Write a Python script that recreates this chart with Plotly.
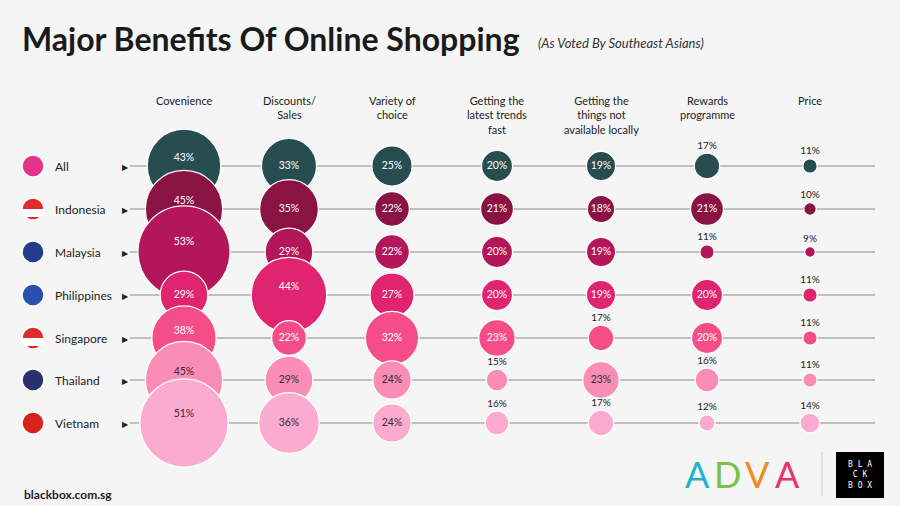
import plotly.graph_objects as go

categories = ["Covenience", "Discounts/<br>Sales", "Variety of<br>choice", "Getting the<br>latest trends<br>fast",
              "Getting the<br>things not<br>available locally", "Rewards<br>programme", "Price"]
countries = ["All", "Indonesia", "Malaysia", "Philippines", "Singapore", "Thailand", "Vietnam"]
values = {
    "All":         [43, 33, 25, 20, 19, 17, 11],
    "Indonesia":   [45, 35, 22, 21, 18, 21, 10],
    "Malaysia":    [53, 29, 22, 20, 19, 11, 9],
    "Philippines": [29, 44, 27, 20, 19, 20, 11],
    "Singapore":   [38, 22, 32, 23, 17, 20, 11],
    "Thailand":    [45, 29, 24, 15, 23, 16, 11],
    "Vietnam":     [51, 36, 24, 16, 17, 12, 14],
}
colors = ["#284d51", "#8a1344", "#b3175a", "#e0246f", "#f54d87", "#f98db6", "#fbaad0"]
text_colors = ["white"] * 5 + ["#3a2a33"] * 2

col_x = [184, 289, 392, 497, 601, 707, 810]
row_y = [166, 209, 252, 295, 338, 380, 423]

def dia(v):
    return 1.85 * v - 6

fig = go.Figure()
for i, c in enumerate(countries):
    y = row_y[i]
    fig.add_shape(type="line", x0=130, x1=875, y0=y, y1=y, line=dict(color="#8a8a8a", width=1), layer="below")

for i, c in enumerate(countries):
    vals = values[c]
    sizes = [dia(v) for v in vals]
    fig.add_trace(go.Scatter(x=col_x, y=[row_y[i]] * 7, mode="markers",
                             marker=dict(size=sizes, color=colors[i], line=dict(color="white", width=1.2), opacity=1),
                             hoverinfo="skip", showlegend=False))
    inx, iny, it, outx, outy, ot = [], [], [], [], [], []
    for j, v in enumerate(vals):
        if v >= 18:
            inx.append(col_x[j]); iny.append(row_y[i] - (0.1 * dia(v) if v >= 38 else 0)); it.append(f"{v}%")
        else:
            outx.append(col_x[j]); outy.append(row_y[i] - dia(v) / 2 - 7); ot.append(f"{v}%")
    fig.add_trace(go.Scatter(x=inx, y=iny, mode="text", text=it,
                             textfont=dict(color=text_colors[i], size=10.5, family="Lato"),
                             hoverinfo="skip", showlegend=False))
    fig.add_trace(go.Scatter(x=outx, y=outy, mode="text", text=ot,
                             textfont=dict(color="#222", size=10, family="Lato"),
                             hoverinfo="skip", showlegend=False))
    fig.add_shape(type="circle", x0=22, x1=44, y0=row_y[i] - 11, y1=row_y[i] + 11,
                  fillcolor=["#e8338a", "#e02b2b", "#233d8c", "#2a4fb0", "#e02b2b", "#2a2f6e", "#d8231c"][i],
                  line=dict(color="white", width=1.5))
    if i in (1, 4):
        fig.add_shape(type="rect", x0=23, x1=43, y0=row_y[i], y1=row_y[i] + 8, fillcolor="white", line_width=0)
    fig.add_annotation(x=53, y=row_y[i], text=c, showarrow=False, xanchor="left",
                       font=dict(size=12, color="#222", family="Lato"))
    fig.add_annotation(x=125, y=row_y[i], text="▶", showarrow=False, font=dict(size=8, color="#222"))

for j, cat in enumerate(categories):
    fig.add_annotation(x=col_x[j], y=92, text=cat, showarrow=False, yanchor="top",
                       font=dict(size=11, color="#222", family="Lato"))

fig.add_annotation(x=20, y=38, text="<b>Major Benefits Of Online Shopping</b>", showarrow=False, xanchor="left",
                   font=dict(size=32, color="#1a1a1a", family="Lato"))
fig.add_annotation(x=536, y=43, text="<i>(As Voted By Southeast Asians)</i>", showarrow=False, xanchor="left",
                   font=dict(size=13, color="#333", family="Lato"))
fig.add_annotation(x=22, y=494, text="<b>blackbox.com.sg</b>", showarrow=False, xanchor="left",
                   font=dict(size=12, color="#222", family="Lato"))
for k, (ch, col) in enumerate(zip("ADVA", ["#1fb3c9", "#7ac143", "#f08a24", "#e8336f"])):
    fig.add_annotation(x=697 + k * 30, y=474, text=ch, showarrow=False,
                       font=dict(size=36, color=col, family="Lato"))
fig.add_shape(type="line", x0=822, x1=822, y0=452, y1=496, line=dict(color="#ccc", width=1))
fig.add_shape(type="rect", x0=836, x1=884, y0=452, y1=498, fillcolor="black", line_width=0)
fig.add_annotation(x=860, y=475, text="B L A<br>C K<br>B O X", showarrow=False,
                   font=dict(size=8, color="white", family="DejaVu Sans Mono"))

fig.update_xaxes(range=[0, 900], visible=False, fixedrange=True)
fig.update_yaxes(range=[506, 0], visible=False, fixedrange=True)
fig.update_layout(width=900, height=506, margin=dict(l=0, r=0, t=0, b=0),
                  paper_bgcolor="#f5f5f5", plot_bgcolor="#f5f5f5")
fig.write_html("out.html", config={"displayModeBar": False},
               post_script="document.body.style.margin='0';document.body.style.overflow='hidden';")
